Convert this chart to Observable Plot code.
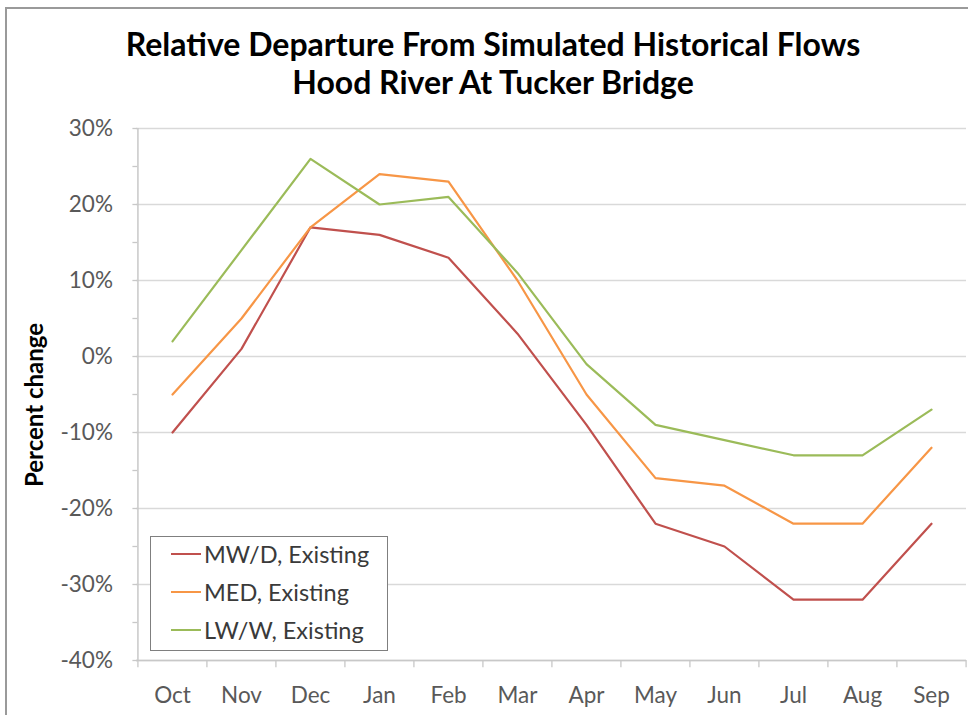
<!DOCTYPE html>
<html>
<head>
<meta charset="utf-8">
<script src="https://cdn.jsdelivr.net/npm/d3@7"></script>
<script src="https://cdn.jsdelivr.net/npm/@observablehq/plot@0.6"></script>
<style>
  html, body { margin: 0; padding: 0; background: #fff; }
  #wrap { position: relative; width: 968px; height: 715px; overflow: hidden; font-family: Lato, "Open Sans", sans-serif; }
  #frame { position: absolute; left: 5px; top: 7px; width: 1000px; height: 800px; border-left: 2px solid #9a9a9a; border-top: 2px solid #9a9a9a; box-sizing: border-box; }
  #title { position: absolute; left: 0; width: 986px; top: 25px; text-align: center; font-weight: bold; font-size: 32px; line-height: 38px; color: #000; }
  #ylabel { position: absolute; left: 33px; top: 405px; transform: translate(-50%, -50%) rotate(-90deg); font-weight: bold; font-size: 24px; color: #000; white-space: nowrap; }
  #legend { position: absolute; left: 150px; top: 536px; width: 238px; height: 115px; border: 1px solid #7f7f7f; box-sizing: border-box; background: #fff; }
  .lrow { position: absolute; left: 20px; height: 30px; display: flex; align-items: center; font-size: 23.5px; color: #3a3a3a; }
  .lrow span.sw { display: inline-block; width: 30px; height: 2px; margin-right: 3px; }
  #chart { position: absolute; left: 0; top: 0; }
</style>
</head>
<body>
<div id="wrap">
  <div id="frame"></div>
  <div id="chart"></div>
  <div id="title">Relative Departure From Simulated Historical Flows<br>Hood River At Tucker Bridge</div>
  <div id="ylabel">Percent change</div>
  <div id="legend"></div>
</div>
<script>
const months = ["Oct","Nov","Dec","Jan","Feb","Mar","Apr","May","Jun","Jul","Aug","Sep"];
const seriesNames = ["MW/D, Existing", "MED, Existing", "LW/W, Existing"];
const seriesColors = ["#c0504d", "#f79646", "#9bbb59"];
const mwd = [-10, 1, 17, 16, 13, 3, -9, -22, -25, -32, -32, -22];
const med = [-5, 5, 17, 24, 23, 10, -5, -16, -17, -22, -22, -12];
const lww = [2, 14, 26, 20, 21, 11, -1, -9, -11, -13, -13, -7];
const yTicks = [30, 20, 10, 0, -10, -20, -30, -40];
const yMinor = [30, 25, 20, 15, 10, 5, 0, -5, -10, -15, -20, -25, -30, -35, -40];

const allSeries = [mwd, med, lww];
const rows = [];
allSeries.forEach((vals, si) => {
  vals.forEach((v, i) => rows.push({month: months[i], value: v, series: seriesNames[si]}));
});

const W = 968, H = 715;
const step = (966 - 136) / months.length;

const plot = Plot.plot({
  width: W,
  height: H,
  marginLeft: 136,
  marginRight: 2,
  marginTop: 128,
  marginBottom: 55,
  style: { fontFamily: "Lato, 'Open Sans', sans-serif", background: "transparent", overflow: "visible" },
  x: { type: "point", domain: months, padding: 0.5, axis: null },
  y: { domain: [-40, 30], axis: null },
  color: { domain: seriesNames, range: seriesColors },
  marks: [
    Plot.ruleY(yTicks, { stroke: "#d9d9d9", strokeWidth: 1.3 }),
    // y axis line and minor ticks
    Plot.ruleX([months[0]], { y1: -40, y2: 30, dx: -step / 2, stroke: "#c8c8c8", strokeWidth: 1.5 }),
    Plot.ruleY(yMinor, { x1: () => months[0], x2: () => months[1], dx: -step / 2 - 5, insetRight: step - 5, stroke: "#c8c8c8", strokeWidth: 1.3 }),
    Plot.text(yTicks, { y: d => d, x: () => months[0], text: d => d + "%", dx: -step / 2 - 25, textAnchor: "end", fontSize: 22.5, fill: "#595959" }),
    // x axis line and boundary ticks
    Plot.ruleY([-40], { stroke: "#c8c8c8", strokeWidth: 1.5 }),
    Plot.ruleX(months, { y1: -40, y2: -40.95, dx: -step / 2, stroke: "#c8c8c8", strokeWidth: 1.3 }),
    Plot.ruleX([months[months.length - 1]], { y1: -40, y2: -40.95, dx: step / 2, stroke: "#c8c8c8", strokeWidth: 1.3 }),
    Plot.text(months, { x: d => d, y: -40, dy: 35, text: d => d, fontSize: 22.5, fill: "#595959" }),
    Plot.line(rows, { x: "month", y: "value", z: "series", stroke: "series", strokeWidth: 2.2, curve: "linear" })
  ]
});

document.getElementById("chart").appendChild(plot);

// Legend
const legend = document.getElementById("legend");
seriesNames.forEach((name, i) => {
  const row = document.createElement("div");
  row.className = "lrow";
  row.style.top = (2 + i * 38) + "px";
  const sw = document.createElement("span");
  sw.className = "sw";
  sw.style.background = seriesColors[i];
  row.appendChild(sw);
  row.appendChild(document.createTextNode(name));
  legend.appendChild(row);
});
</script>
</body>
</html>
